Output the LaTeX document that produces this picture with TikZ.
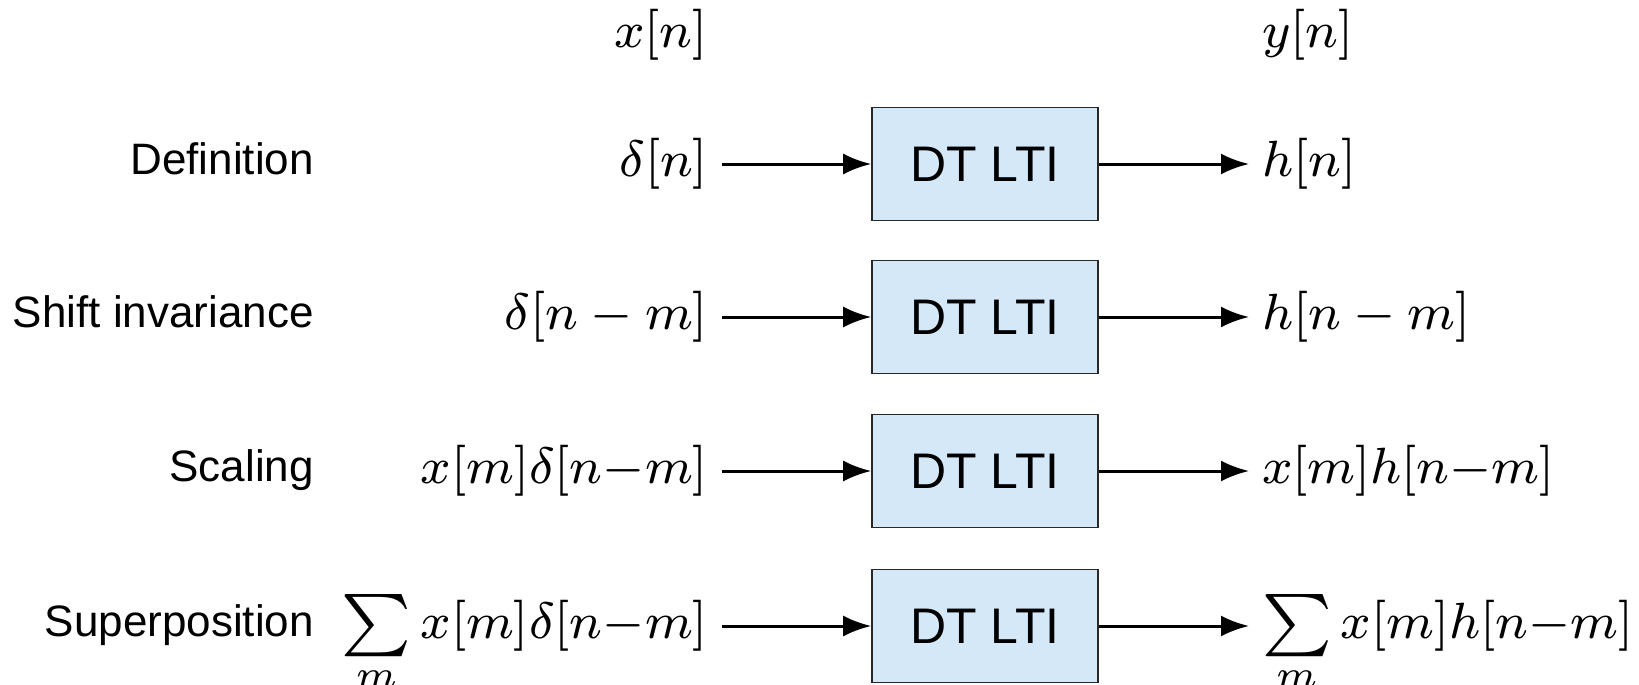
\documentclass[tikz,border=0pt]{standalone}
\usepackage{amsmath}
\usepackage{graphicx}
\usepackage{fontspec}
\setsansfont{Liberation Sans}
\usetikzlibrary{arrows.meta}
\definecolor{ltiblue}{RGB}{212,232,248}
\definecolor{ltiedge}{RGB}{40,40,40}
\newcommand{\sigmath}[1]{\scalebox{6.375}{\fontsize{8}{10}\selectfont$#1$}}
\newcommand{\msum}{\mathop{\vcenter{\hbox{\scalebox{1.22}{$\textstyle\sum$}}}}\limits}
\begin{document}
\begin{tikzpicture}[x=1pt,y=-1pt,
  lti/.style={draw=ltiedge, line width=1.6pt, fill=ltiblue, minimum width=226pt, minimum height=113pt, inner sep=0pt, font=\sffamily\fontsize{50}{60}\selectfont},
  rowlabel/.style={anchor=base east, inner sep=0pt, font=\sffamily\fontsize{44}{52}\selectfont},
  insig/.style={anchor=base east, inner ysep=0pt, inner xsep=7pt, outer xsep=7pt, outer ysep=0pt},
  outsig/.style={anchor=base west, inner ysep=0pt, inner xsep=6.5pt, outer xsep=6.5pt, outer ysep=0pt},
  head/.style={inner sep=0pt},
  conn/.style={line width=3pt, -{Latex[length=28pt,width=21pt]}}
]
\useasboundingbox (0,0) rectangle (1639,685);

\node[head, anchor=base east] (hx) at (708,48) {\sigmath{x[n]}};
\node[head, anchor=base west] (hy) at (1262,48) {\sigmath{y[n]}};

% rows
\foreach \r/\y/\lab/\inp/\outp in {
  1/164/Definition/{\delta[n]}/{h[n]},
  2/317/Shift invariance/{\delta[n-m]}/{h[n-m]},
  3/471/Scaling/{x[m]\delta[n{-}m]}/{x[m]h[n{-}m]},
  4/626/Superposition/{\msum_m x[m]\delta[n{-}m]}/{\msum_m x[m]h[n{-}m]}}{
  \node[lti] (b\r) at (985,\y) {DT LTI};
  \node[rowlabel] (l\r) at (314,\y+10) {\lab};
  \node[insig] (i\r) at (722,\y+12) {\sigmath{\inp}};
  \node[outsig] (o\r) at (1249,\y+12) {\sigmath{\outp}};
  \draw[conn] (i\r.east |- b\r.west) -- (b\r.west);
  \draw[conn] (b\r.east) -- (b\r.east -| o\r.west);
}
\end{tikzpicture}
\end{document}
